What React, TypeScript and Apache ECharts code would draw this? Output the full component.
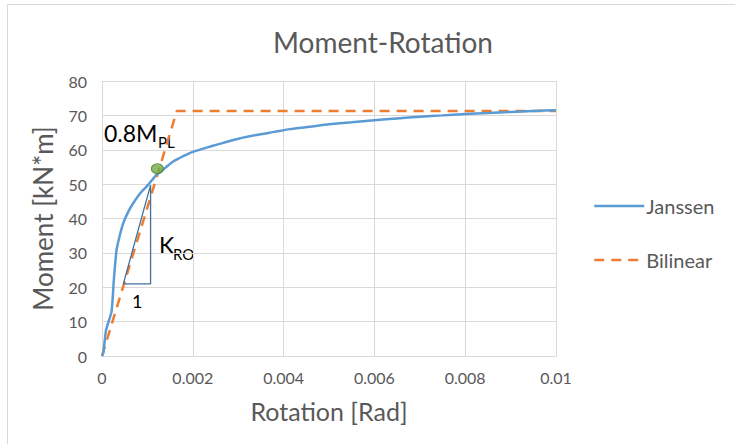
import React, { useEffect, useRef } from "react";
import * as echarts from "echarts";

const rotation = [0, 0.00003, 0.00009, 0.00021, 0.00026, 0.00032, 0.0004, 0.00047, 0.00058, 0.00069, 0.00085, 0.00101, 0.0012, 0.0014, 0.00156, 0.0018, 0.002, 0.0024, 0.00267, 0.003, 0.0034, 0.0038, 0.00414, 0.00458, 0.005, 0.0055, 0.006, 0.0065, 0.007, 0.0075, 0.008, 0.0085, 0.009, 0.0095, 0.01];
const janssen = [0, 1, 7.6, 12.9, 22, 30.8, 35.5, 38.7, 42, 44.5, 47.5, 49.7, 52.7, 54.8, 56.5, 58.2, 59.4, 61, 62, 63.2, 64.3, 65.2, 66, 66.7, 67.4, 68, 68.6, 69.1, 69.6, 70, 70.4, 70.7, 71, 71.3, 71.5];
const bilinearRot = [0, 0.00165, 0.01];
const bilinearMom = [0, 71.3, 71.3];
const triangleRot = [0.00047, 0.00107, 0.00107, 0.00047];
const triangleMom = [21, 21, 49.7, 21];
const pointRot = [0.00122];
const pointMom = [54.5];
const seriesNames = ["Janssen", "Bilinear"];

const FONT = "Lato";
const GREY = "#595959";

export default function App() {
  const ref = useRef<HTMLDivElement>(null);
  useEffect(() => {
    const chart = echarts.init(ref.current!, null, { renderer: "svg" });
    const zip = (a: number[], b: number[]) => a.map((v, i) => [v, b[i]]);
    chart.setOption({
      animation: false,
      backgroundColor: "#fff",
      textStyle: { fontFamily: FONT },
      title: {
        text: "Moment-Rotation",
        left: 378,
        textAlign: "center",
        top: 23,
        textStyle: { fontFamily: FONT, fontSize: 28, fontWeight: "normal", color: GREY },
      },
      grid: { left: 102, top: 81, width: 454, height: 275 },
      legend: {
        data: seriesNames,
        orient: "vertical",
        left: 588,
        top: 191,
        itemWidth: 50,
        itemHeight: 14,
        itemGap: 34,
        itemStyle: { opacity: 0 },
        lineStyle: { width: 2.5 },
        textStyle: { fontFamily: FONT, fontSize: 20, color: GREY, padding: [0, 0, 0, -3] },
      },
      xAxis: {
        type: "value",
        min: 0,
        max: 0.01,
        interval: 0.002,
        name: "Rotation [Rad]",
        nameLocation: "middle",
        nameGap: 42,
        nameTextStyle: { fontFamily: FONT, fontSize: 25, color: GREY },
        axisLine: { show: true, lineStyle: { color: "#D9D9D9" } },
        axisTick: { show: false },
        axisLabel: {
          margin: 13,
          fontFamily: FONT,
          fontSize: 16,
          color: GREY,
          formatter: (v: number) => String(parseFloat(v.toFixed(4))),
        },
        splitLine: { show: true, lineStyle: { color: "#D9D9D9" } },
      },
      yAxis: {
        type: "value",
        min: 0,
        max: 80,
        interval: 10,
        name: "Moment [kN*m]",
        nameLocation: "middle",
        nameGap: 46,
        nameTextStyle: { fontFamily: FONT, fontSize: 26, color: GREY },
        axisLine: { show: false },
        axisTick: { show: false },
        axisLabel: { margin: 15, fontFamily: FONT, fontSize: 16, color: GREY },
        splitLine: { show: true, lineStyle: { color: "#D9D9D9" } },
      },
      series: [
        {
          name: "Janssen",
          type: "line",
          data: zip(rotation, janssen),
          symbol: "none",
          smooth: 0.2,
          color: "#5B9BD5",
          lineStyle: { width: 2.5, color: "#5B9BD5" },
          z: 3,
        },
        {
          name: "Bilinear",
          type: "line",
          data: zip(bilinearRot, bilinearMom),
          symbol: "none",
          color: "#ED7D31",
          lineStyle: { width: 2.5, type: [10, 7], color: "#ED7D31" },
          z: 2,
        },
        {
          name: "Triangle",
          type: "line",
          data: zip(triangleRot, triangleMom),
          symbol: "none",
          lineStyle: { width: 1.3, color: "#41719C" },
          z: 4,
        },
        {
          name: "Point",
          type: "scatter",
          data: zip(pointRot, pointMom),
          symbol: "circle",
          symbolSize: [12, 10],
          itemStyle: { color: "#70AD47", borderColor: "#507E32", borderWidth: 1 },
          z: 5,
        },
      ],
      graphic: [
        { type: "line", shape: { x1: 7.5, y1: 4.5, x2: 735, y2: 4.5 }, style: { stroke: "#D9D9D9", lineWidth: 1 } },
        { type: "line", shape: { x1: 7.5, y1: 4.5, x2: 7.5, y2: 444 }, style: { stroke: "#D9D9D9", lineWidth: 1 } },
        { type: "text", left: 104, top: 121, style: { text: "0.8M", fontFamily: FONT, fontSize: 23, fill: "#000" } },
        { type: "text", left: 158, top: 134, style: { text: "PL", fontFamily: FONT, fontSize: 15, fill: "#000" } },
        { type: "text", left: 159, top: 233, style: { text: "K", fontFamily: FONT, fontSize: 23, fill: "#000" } },
        { type: "text", left: 173, top: 246, style: { text: "RO", fontFamily: FONT, fontSize: 15, fill: "#000" } },
        { type: "text", left: 132, top: 292, style: { text: "1", fontFamily: FONT, fontSize: 18, fill: "#000" } },
      ],
    });
    return () => chart.dispose();
  }, []);
  return <div ref={ref} style={{ position: "fixed", left: 0, top: 0, width: 735, height: 444 }} />;
}
